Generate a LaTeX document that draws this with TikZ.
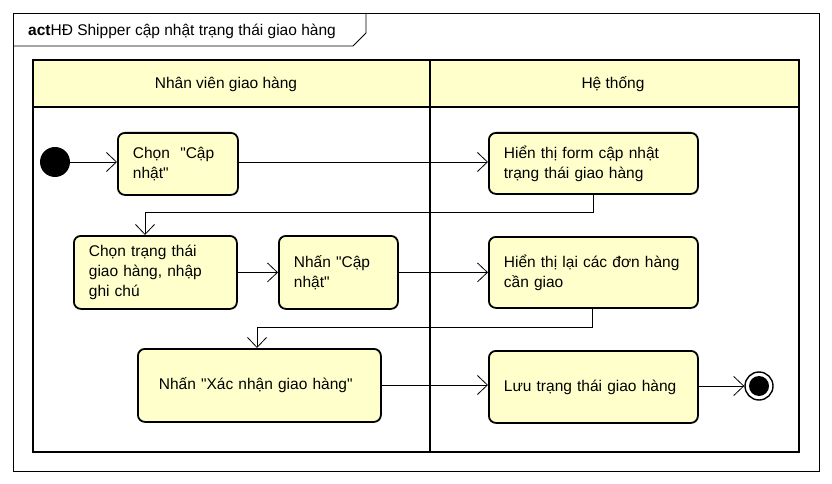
\documentclass[tikz,border=0pt]{standalone}
\usepackage{fontspec}
\setmainfont{Liberation Sans}[Ligatures=TeXOff]
\usetikzlibrary{arrows.meta}
\definecolor{laneyellow}{RGB}{255,255,204}

\tikzset{
  action/.style={draw, line width=1.8pt, rounded corners=7pt, fill=laneyellow,
    align=left, inner xsep=15pt, inner ysep=0pt, anchor=north west,
    font=\fontsize{15.5}{20}\selectfont},
  flow/.style={-{Straight Barb[length=10pt,width=19pt,line width=0.8pt]}, line width=0.8pt},
  lane/.style={line width=2.2pt},
  lanetitle/.style={font=\fontsize{15.5}{20}\selectfont}
}

\begin{document}
\begin{tikzpicture}[x=1pt,y=-1pt]
                \useasboundingbox (0,0) rectangle (832,484);
                %frame with its tab
                \draw[line width=0.9pt] (13,13) rectangle (819,471);
                \draw[line width=0.9pt] (13,46) -- (353,46) -- (366,33) -- (366,13);
                \node[anchor=west, inner sep=0pt, lanetitle] (title) at (28,31)
                  {\textbf{act}HĐ Shipper cập nhật trạng thái giao hàng};
                
                %swimlanes
                \fill[laneyellow] (33,60) rectangle (799,107);
                \draw[lane] (33,60) rectangle (799,452);
                \draw[lane] (33,107) -- (799,107);
                \draw[lane] (430,60) -- (430,452);
                \node[lanetitle] (nvgh) at (226,84) {Nhân viên giao hàng};
                \node[lanetitle] (hethong) at (613,84) {Hệ thống};
                
                %actions
                \node[action, text width=90, minimum height=62] (chon) at (117,132) {Chọn\ \ "Cập\\nhật"};
                \node[action, text width=179, minimum height=61] (hienform) at (488,132) {Hiển thị form cập nhật\\trạng thái giao hàng};
                \node[action, text width=133, minimum height=73] (chontt) at (73,235) {Chọn trạng thái\\giao hàng, nhập\\ghi chú};
                \node[action, text width=89, minimum height=73] (nhancn) at (278,235) {Nhấn "Cập\\nhật"};
                \node[action, text width=179, minimum height=71] (hienlai) at (488,236) {Hiển thị lại các đơn hàng\\cần giao};
                \node[action, text width=201, inner xsep=21pt, minimum height=73] (nhanxn) at (137,348) {Nhấn "Xác nhận giao hàng"};
                \node[action, text width=179, minimum height=72] (luu) at (488,350) {Lưu trạng thái giao hàng};
                
                %start and end
                \node[circle, fill=black, minimum size=30, inner sep=0pt] (start) at (55,162) {};
                \node[circle, draw, line width=1.4pt, fill=white, minimum size=28, inner sep=0pt] (end) at (759,386) {};
                \node[circle, fill=black, minimum size=20, inner sep=0pt] (endin) at (end) {};
                
                %flows
                \draw[flow] (start) -- (chon.west |- start);
                \draw[flow] (chon.east |- start) -- (hienform.west |- start);
                \draw[flow] (hienform.south -| 593,0) -- (593,212) -- (145,212) -- (chontt.north -| 145,0);
                \draw[flow] (chontt.east) -- (nhancn.west);
                \draw[flow] (nhancn.east) -- (hienlai.west |- nhancn.east);
                \draw[flow] (hienlai.south -| 592,0) -- (592,327) -- (257,327) -- (nhanxn.north -| 257,0);
                \draw[flow] (nhanxn.east |- 0,385) -- (luu.west |- 0,385);
                \draw[flow] (luu.east |- end) -- (end);
            \end{tikzpicture}
\end{document}
